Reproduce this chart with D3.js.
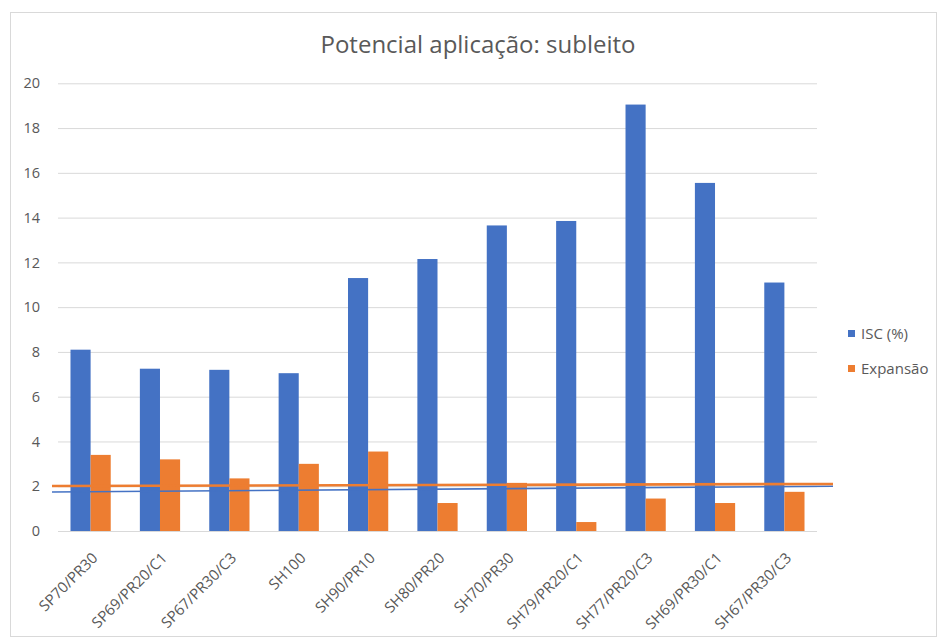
<!DOCTYPE html>
<html>
<head>
<meta charset="utf-8">
<script src="https://cdn.jsdelivr.net/npm/d3@7"></script>
<style>
  html, body { margin: 0; padding: 0; background: #fff; }
  svg { display: block; font-family: "Open Sans", "Noto Sans", sans-serif; }
</style>
</head>
<body>
<svg id="chart" width="939" height="639"></svg>
<script>
// Mixtures tested
const categories = [
  "SP70/PR30", "SP69/PR20/C1", "SP67/PR30/C3", "SH100", "SH90/PR10",
  "SH80/PR20", "SH70/PR30", "SH79/PR20/C1", "SH77/PR20/C3", "SH69/PR30/C1", "SH67/PR30/C3"
];
// ISC (%) per mixture
const iscValues = [8.1, 7.25, 7.2, 7.05, 11.3, 12.15, 13.65, 13.85, 19.05, 15.55, 11.1];
// Expansion (%) per mixture
const expansaoValues = [3.4, 3.2, 2.35, 3.0, 3.55, 1.25, 2.15, 0.4, 1.45, 1.25, 1.75];
const seriesNames = ["ISC (%)", "Expansão"];
const yTicks = [0, 2, 4, 6, 8, 10, 12, 14, 16, 18, 20];
// Reference lines near the 2% limit (value at start, value at end)
const iscLimitLine = [1.74, 2.0];
const expLimitLine = [2.01, 2.1];

const colors = ["#4472C4", "#ED7D31"];
const textColor = "#595959";

const svg = d3.select("#chart");

// chart frame
svg.append("rect")
  .attr("x", 10.5).attr("y", 12.5)
  .attr("width", 926).attr("height", 624)
  .attr("fill", "#fff").attr("stroke", "#d9d9d9");

const plot = { left: 58, right: 817, top: 83.3, bottom: 531 };

const x = d3.scaleBand().domain(categories).range([plot.left, plot.right]).paddingInner(0.42).paddingOuter(0.18);
const xSub = d3.scaleBand().domain(seriesNames).range([0, x.bandwidth()]);
const y = d3.scaleLinear().domain([0, 20]).range([plot.bottom, plot.top]);

// title
svg.append("text")
  .attr("x", 478).attr("y", 53)
  .attr("text-anchor", "middle")
  .attr("font-size", 24)
  .attr("fill", textColor)
  .text("Potencial aplicação: subleito");

// gridlines + y labels
const yAxis = d3.axisLeft(y).tickValues(yTicks).tickSize(-(plot.right - plot.left)).tickPadding(18);
const gy = svg.append("g").attr("transform", `translate(${plot.left},0)`).call(yAxis);
gy.select(".domain").remove();
gy.selectAll(".tick line").attr("stroke", "#d9d9d9").attr("stroke-width", 1);
gy.selectAll(".tick text").attr("fill", textColor).attr("font-size", 14.5).attr("font-family", "Open Sans, sans-serif");

// bars
const rows = categories.map((c, i) => ({ cat: c, vals: [iscValues[i], expansaoValues[i]] }));
const groups = svg.append("g").selectAll("g").data(rows).join("g")
  .attr("transform", d => `translate(${x(d.cat)},0)`);
groups.selectAll("rect")
  .data(d => d.vals.map((v, k) => ({ name: seriesNames[k], v, k })))
  .join("rect")
  .attr("x", d => xSub(d.name))
  .attr("width", xSub.bandwidth())
  .attr("y", d => y(d.v))
  .attr("height", d => y(0) - y(d.v))
  .attr("fill", d => colors[d.k]);

// x axis labels
const xAxis = d3.axisBottom(x).tickSize(0).tickPadding(0);
const gx = svg.append("g").attr("transform", `translate(0,${plot.bottom})`).call(xAxis);
gx.select(".domain").remove();
gx.selectAll(".tick text")
  .attr("fill", textColor)
  .attr("font-size", 15)
  .attr("font-family", "Open Sans, sans-serif")
  .attr("text-anchor", "end")
  .attr("dy", null)
  .attr("transform", "translate(8,28) rotate(-45)");

// reference lines, extending slightly beyond the plot area
const lineX0 = plot.left - 6, lineX1 = plot.right + 16;
[[iscLimitLine, colors[0], 1.6], [expLimitLine, colors[1], 2.6]].forEach(([vals, col, w]) => {
  svg.append("line")
    .attr("x1", lineX0).attr("x2", lineX1)
    .attr("y1", y(vals[0])).attr("y2", y(vals[1]))
    .attr("stroke", col).attr("stroke-width", w);
});

// legend
const legend = svg.append("g").attr("transform", "translate(848,334)");
seriesNames.forEach((n, i) => {
  const g = legend.append("g").attr("transform", `translate(0,${i * 35})`);
  g.append("rect").attr("x", 0).attr("y", -4).attr("width", 7).attr("height", 7).attr("fill", colors[i]);
  g.append("text").attr("x", 13).attr("y", 0).attr("dy", "0.35em")
    .attr("font-size", 15).attr("fill", textColor).text(n);
});
</script>
</body>
</html>
